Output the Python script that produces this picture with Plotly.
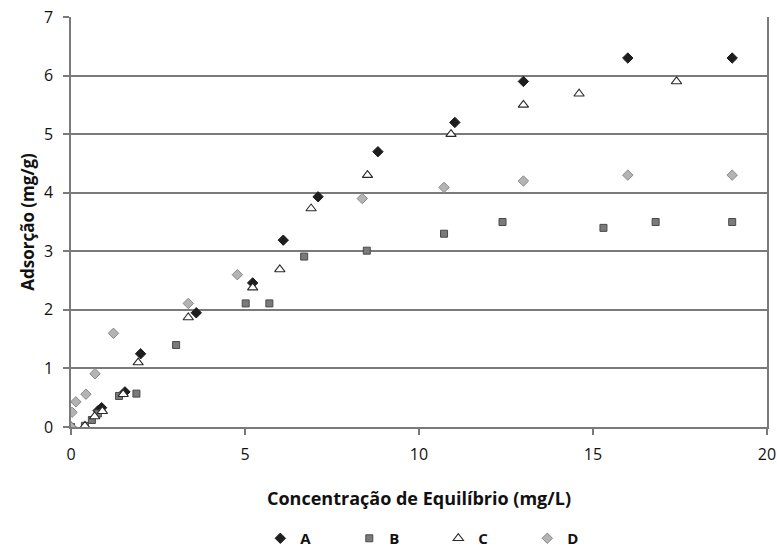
import plotly.graph_objects as go

# Data
a_x = [0, 0.78, 0.88, 1.55, 2.0, 3.6, 5.22, 6.1, 7.1, 8.82, 11.03, 13.0, 16.0, 19.0]
a_y = [0, 0.28, 0.33, 0.6, 1.25, 1.95, 2.46, 3.19, 3.93, 4.7, 5.2, 5.9, 6.3, 6.3]

b_x = [0, 0.4, 0.6, 0.77, 1.38, 1.88, 3.02, 5.02, 5.7, 6.7, 8.5, 10.72, 12.4, 15.3, 16.8, 19.0]
b_y = [0, 0.02, 0.12, 0.23, 0.53, 0.57, 1.4, 2.11, 2.11, 2.91, 3.01, 3.3, 3.5, 3.4, 3.5, 3.5]

c_x = [0.4, 0.68, 0.9, 1.5, 1.93, 3.37, 5.22, 6.0, 6.9, 8.52, 10.92, 13.0, 14.6, 17.4]
c_y = [0.02, 0.18, 0.27, 0.56, 1.1, 1.87, 2.38, 2.69, 3.73, 4.3, 5.0, 5.5, 5.69, 5.9]

d_x = [0, 0.03, 0.14, 0.43, 0.69, 1.22, 3.37, 4.78, 8.37, 10.72, 13.0, 16.0, 19.0]
d_y = [0, 0.25, 0.43, 0.56, 0.91, 1.6, 2.11, 2.6, 3.9, 4.09, 4.2, 4.3, 4.3]

x_ticks = [0, 5, 10, 15, 20]
y_ticks = [0, 1, 2, 3, 4, 5, 6, 7]

FONT = "Open Sans"
AXIS = "#7a7a7a"

fig = go.Figure()
fig.add_trace(go.Scatter(x=a_x, y=a_y, mode="markers", name="<b>A</b>",
                         marker=dict(symbol="diamond", size=8, color="#1e1e1e",
                                     line=dict(color="#1e1e1e", width=1))))
fig.add_trace(go.Scatter(x=b_x, y=b_y, mode="markers", name="<b>B</b>",
                         marker=dict(symbol="square", size=7, color="#7a7a7a",
                                     line=dict(color="#4a4a4a", width=1))))
fig.add_trace(go.Scatter(x=c_x, y=c_y, mode="markers", name="<b>C</b>",
                         marker=dict(symbol="triangle-up", size=9, color="white",
                                     line=dict(color="#2a2a2a", width=1.1))))
fig.add_trace(go.Scatter(x=d_x, y=d_y, mode="markers", name="<b>D</b>",
                         marker=dict(symbol="diamond", size=8, color="#b4b4b4",
                                     line=dict(color="#888888", width=1))))

fig.update_layout(
    width=777, height=548,
    margin=dict(l=71, r=10, t=17, b=121, autoexpand=False),
    paper_bgcolor="white", plot_bgcolor="white",
    font=dict(family=FONT, size=16, color="#111111"),
    showlegend=True,
    legend=dict(orientation="h", x=0.272, xanchor="left", y=-0.272, yanchor="middle",
                entrywidth=44, entrywidthmode="pixels", itemwidth=30,
                borderwidth=0, bgcolor="rgba(0,0,0,0)",
                font=dict(family=FONT, size=15, color="#111111")),
    xaxis=dict(range=[0, 20], tickvals=x_ticks, showgrid=False, zeroline=False,
               automargin=False,
               showline=True, linecolor=AXIS, linewidth=1.5,
               ticks="outside", ticklen=6, tickcolor=AXIS, tickwidth=1.5,
               ticklabelstandoff=6,
               tickfont=dict(family=FONT, size=16),
               title=dict(text="<b>Concentração de Equilíbrio (mg/L)</b>",
                          font=dict(family=FONT, size=18), standoff=28)),
    yaxis=dict(range=[0, 7], tickvals=y_ticks, showgrid=True, gridcolor=AXIS,
               gridwidth=1.5, zeroline=False, automargin=False,
               showline=True, linecolor=AXIS, linewidth=1.5, mirror=True,
               ticks="outside", ticklen=6, tickcolor=AXIS, tickwidth=1.5,
               ticklabelstandoff=7,
               tickfont=dict(family=FONT, size=16),
               title=dict(text="<b>Adsorção (mg/g)</b>",
                          font=dict(family=FONT, size=17), standoff=5)),
)

fig.write_html(
    "out.html",
    config={"displayModeBar": False},
    post_script="document.body.style.margin='0';document.body.style.padding='0';",
)
